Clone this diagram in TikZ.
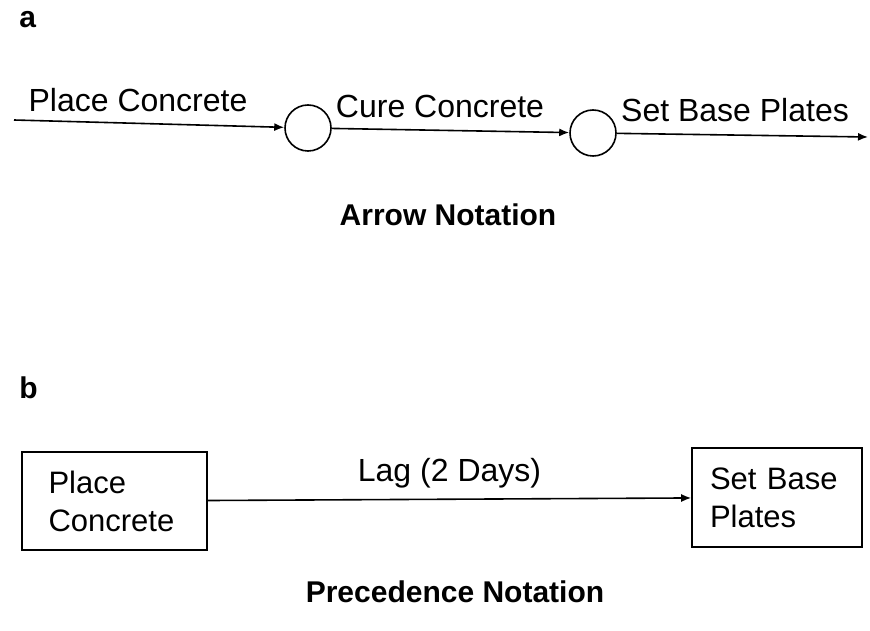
\documentclass[tikz,border=0pt]{standalone}
\usepackage{fontspec}
\setmainfont{Liberation Sans}
\usetikzlibrary{arrows.meta}

\tikzset{
    event/.style={draw, circle, minimum size=23pt, inner sep=0pt},
    activity/.style={draw, rectangle, align=left, inner ysep=0pt, font=\fontsize{15.5}{19}\selectfont},
    lbl/.style={font=\fontsize{16}{19}\selectfont},
    caption/.style={font=\bfseries\fontsize{15}{18}\selectfont},
}

\begin{document}
\begin{tikzpicture}[x=0.5pt, y=-0.5pt, >={Latex[length=5pt,width=4pt]}, line width=0.8pt]

\useasboundingbox (0,0) rectangle (870,630);

% a : arrow notation
\node [caption, anchor=west] (a) at (12,20) {a};

\coordinate (start) at (14,120);
\node [event] (e1) at (308,128) {};
\node [event] (e2) at (593,133) {};
\coordinate (end) at (868,137);

\draw [->] (start) -- (e1);
\draw [->] (e1) -- (e2);
\draw [->] (e2) -- (end);

\node [lbl] (place) at (138,100) {Place Concrete};
\node [lbl] (cure) at (440,106) {Cure Concrete};
\node [lbl] (setbase) at (735,110) {Set Base Plates};

\node [caption] (arrownot) at (448,215) {Arrow Notation};

% b : precedence notation
\node [caption, anchor=west] (b) at (12,388) {b};

\node [activity, minimum width=92.5pt, minimum height=49pt, text width=66pt, inner xsep=13pt] (pc) at (114.5,501) {Place\\Concrete};
\node [activity, minimum width=85pt, minimum height=49.5pt, text width=67pt, inner xsep=9pt] (sbp) at (777,497.5) {Set Base\\Plates};

\draw [->] (pc) -- node [lbl, above=2pt] (lag) {Lag (2 Days)} (sbp);

\node [caption] (precnot) at (455,592) {Precedence Notation};

\end{tikzpicture}
\end{document}
